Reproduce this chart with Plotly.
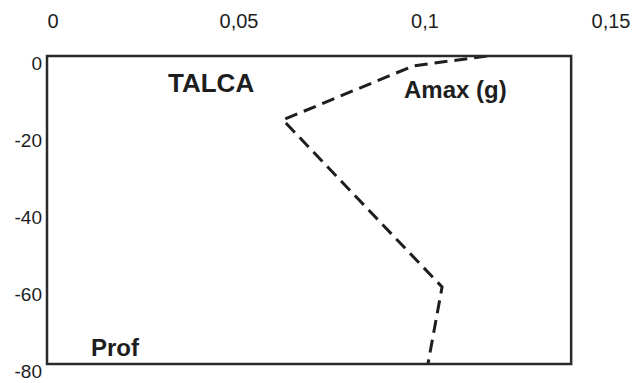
import plotly.graph_objects as go

# Data
amax_g = [0.1183, 0.0984, 0.0634, 0.1062, 0.1024]
depth_m = [0, -2.6, -16.6, -60, -80]

x_tick_vals = [0, 0.05, 0.1, 0.15]
x_tick_text = ["0", "0,05", "0,1", "0,15"]
y_tick_vals = [0, -20, -40, -60, -80]
y_tick_text = ["0", "-20", "-40", "-60", "-80"]

FONT = "Arial, Liberation Sans, sans-serif"
INK = "#1e1e1e"

fig = go.Figure()
fig.add_trace(go.Scatter(
    x=amax_g, y=depth_m, mode="lines",
    line=dict(color=INK, width=3, dash="13px,7px"),
    showlegend=False, hoverinfo="skip", cliponaxis=False,
))

# frame of the plot area (box), right edge at 0.1409 on the 0..0.15 axis
fig.add_shape(type="rect", xref="paper", yref="paper", x0=0, x1=0.1409 / 0.15,
              y0=0, y1=1, line=dict(color="#2a2a2a", width=2.5), layer="above")

fig.add_annotation(x=0.0441, y=-7.0, text="<b>TALCA</b>", showarrow=False,
                   font=dict(family=FONT, size=26, color=INK))
fig.add_annotation(x=0.1097, y=-8.8, text="<b>Amax (g)</b>", showarrow=False,
                   font=dict(family=FONT, size=24, color=INK))
fig.add_annotation(x=0.0183, y=-75.6, text="<b>Prof</b>", showarrow=False,
                   font=dict(family=FONT, size=24, color=INK))

fig.update_layout(
    width=637, height=383,
    margin=dict(l=47, r=32, t=56, b=19),
    paper_bgcolor="white", plot_bgcolor="white",
    font=dict(family=FONT, size=20, color=INK),
    xaxis=dict(range=[0, 0.15], side="top", showgrid=False, zeroline=False,
               showline=False, ticks="", tickvals=x_tick_vals, ticktext=x_tick_text,
               ticklabelstandoff=23, ticklabelshift=6, fixedrange=True,
               automargin=False, ticklabeloverflow="allow"),
    yaxis=dict(range=[-80, 0], showgrid=False, zeroline=False, showline=False,
               ticks="", tickvals=y_tick_vals, ticktext=y_tick_text,
               tickfont=dict(size=19),
               ticklabelshift=7, ticklabelstandoff=4, fixedrange=True,
               automargin=False, ticklabeloverflow="allow"),
)

fig.write_html("out.html", config={"displayModeBar": False},
               post_script="document.body.style.margin='0';document.body.style.overflow='hidden';")
